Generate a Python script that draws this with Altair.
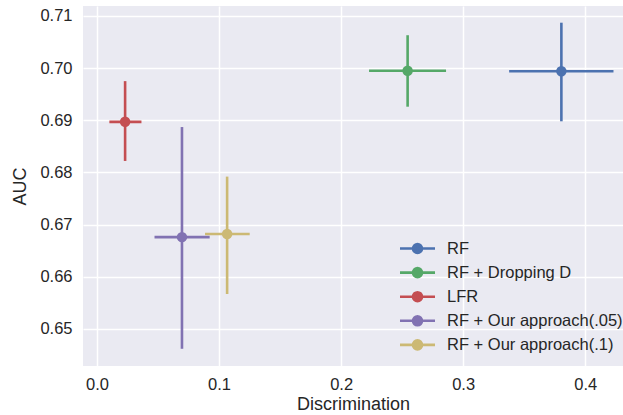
import altair as alt
import pandas as pd

methods = ["RF", "RF + Dropping D", "LFR", "RF + Our approach(.05)", "RF + Our approach(.1)"]
colors = ["#4C72B0", "#55A868", "#C44E52", "#8172B2", "#CCB974"]
disc = [0.3805, 0.2545, 0.0230, 0.0696, 0.1066]
disc_lo = [0.3377, 0.2229, 0.0101, 0.0471, 0.0885]
disc_hi = [0.4232, 0.2860, 0.0364, 0.0923, 0.1251]
auc = [0.6994, 0.6995, 0.6897, 0.6676, 0.6682]
auc_lo = [0.6898, 0.6926, 0.6822, 0.6462, 0.6567]
auc_hi = [0.7087, 0.7063, 0.6975, 0.6887, 0.6792]
x_ticks = [0.0, 0.1, 0.2, 0.3, 0.4]
y_ticks = [0.65, 0.66, 0.67, 0.68, 0.69, 0.70, 0.71]

df = pd.DataFrame({
    "method": methods, "disc": disc, "disc_lo": disc_lo, "disc_hi": disc_hi,
    "auc": auc, "auc_lo": auc_lo, "auc_hi": auc_hi,
})

FONT = "Liberation Sans"
xscale = alt.Scale(domain=[-0.0115, 0.431], nice=False, zero=False)
yscale = alt.Scale(domain=[0.6429, 0.7119], nice=False, zero=False)
cscale = alt.Scale(domain=methods, range=colors)

xaxis = alt.Axis(values=x_ticks, format=".1f", title="Discrimination", grid=True)
yaxis = alt.Axis(values=y_ticks, format=".2f", title="AUC", grid=True)

legend_path = ("M-1.75,0H1.75M0,-0.55V0.55"
               "M-0.45,0A0.45,0.45 0 1,0 0.45,0A0.45,0.45 0 1,0 -0.45,0Z")

legend = alt.Legend(
    title=None, orient="none", legendX=323, legendY=231,
    symbolType=legend_path, symbolSize=400, symbolStrokeWidth=2.6,
    symbolOpacity=1, labelOffset=18, rowPadding=1.1, padding=0,
    labelFontSize=16.5, labelFont=FONT, labelColor="#262626", labelLimit=400,
)

base = alt.Chart(df)

hbar = base.mark_rule(strokeWidth=2.6).encode(
    x=alt.X("disc_lo:Q", scale=xscale, axis=xaxis),
    x2="disc_hi:Q",
    y=alt.Y("auc:Q", scale=yscale, axis=yaxis),
    color=alt.Color("method:N", scale=cscale, sort=methods, legend=legend),
)
vbar = base.mark_rule(strokeWidth=2.6).encode(
    x=alt.X("disc:Q", scale=xscale),
    y=alt.Y("auc_lo:Q", scale=yscale),
    y2="auc_hi:Q",
    color=alt.Color("method:N", scale=cscale, sort=methods),
)
pts = base.mark_point(filled=True, size=110, opacity=1, shape="circle").encode(
    x=alt.X("disc:Q", scale=xscale),
    y=alt.Y("auc:Q", scale=yscale),
    color=alt.Color("method:N", scale=cscale, sort=methods),
)

chart = alt.layer(hbar, vbar, pts).properties(
    width=540, height=360,
    autosize=alt.AutoSizeParams(type="none"),
    padding={"left": 83, "top": 6, "right": 0, "bottom": 49},
    background="white",
).configure_view(
    fill="#EAEAF2", stroke=None,
).configure_axis(
    domain=False, ticks=False, gridColor="white", gridWidth=1.5,
    labelFont=FONT, labelFontSize=16.5, labelColor="#262626",
    titleFont=FONT, titleFontSize=18, titleColor="#262626", titleFontWeight="normal",
).configure_axisX(
    labelPadding=10, titlePadding=3,
).configure_axisY(
    labelPadding=11, titlePadding=10,
)

chart.save("out.html", embed_options={"renderer": "svg", "actions": False})
